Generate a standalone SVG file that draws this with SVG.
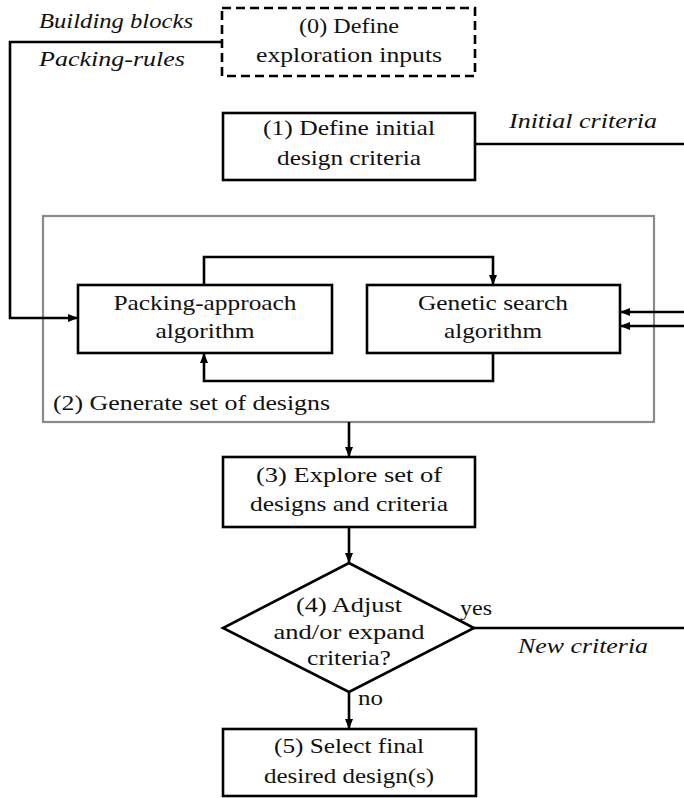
<svg xmlns="http://www.w3.org/2000/svg" width="684" height="798" viewBox="0 0 684 798">
<defs>
<style>
.box{fill:#fff;stroke:#000;stroke-width:2.6}
.dash{fill:#fff;stroke:#000;stroke-width:2.6;stroke-dasharray:9 5}
.grp{fill:none;stroke:#8a8a8a;stroke-width:2.2}
.ln{fill:none;stroke:#000;stroke-width:2.6}
text{font-family:'Liberation Serif','Times New Roman',serif;font-size:22px;fill:#111}
.t{text-anchor:middle}
.i{font-style:italic}
</style>
<marker id="ah" viewBox="0 0 10 8" refX="10" refY="4" markerWidth="10" markerHeight="8" markerUnits="userSpaceOnUse" orient="auto">
<path d="M0,0 L10,4 L0,8 Z" fill="#000"/>
</marker>
</defs>
<rect width="684" height="798" fill="#fff"/>

<g id="n2" font-family="Liberation Serif, serif">
<rect class="grp" x="43" y="216" width="611" height="206"/>
<text x="53" y="410" textLength="277" lengthAdjust="spacingAndGlyphs">(2) Generate set of designs</text>
</g>

<g id="connectors" font-family="Liberation Serif, serif">
<path class="ln" d="M222,42 H10 V318 H78" marker-end="url(#ah)"/>
<path class="ln" d="M475,144 H684"/>
<path class="ln" d="M204,285 V257 H493 V285" marker-end="url(#ah)"/>
<path class="ln" d="M493,353 V381 H204 V353" marker-end="url(#ah)"/>
<path class="ln" d="M684,312 H620" marker-end="url(#ah)"/>
<path class="ln" d="M684,326 H620" marker-end="url(#ah)"/>
<path class="ln" d="M349,422 V457" marker-end="url(#ah)"/>
<path class="ln" d="M349,527 V563" marker-end="url(#ah)"/>
<path class="ln" d="M474,628 H684"/>
<path class="ln" d="M349,692 V729" marker-end="url(#ah)"/>
<text class="i" x="39" y="28" textLength="154" lengthAdjust="spacingAndGlyphs">Building blocks</text>
<text class="i" x="39" y="66" textLength="146" lengthAdjust="spacingAndGlyphs">Packing-rules</text>
<text class="i" x="509" y="128" textLength="148" lengthAdjust="spacingAndGlyphs">Initial criteria</text>
<text x="460" y="615" textLength="32" lengthAdjust="spacingAndGlyphs">yes</text>
<text class="i" x="518" y="653" textLength="130" lengthAdjust="spacingAndGlyphs">New criteria</text>
<text x="358" y="705" textLength="25" lengthAdjust="spacingAndGlyphs">no</text>
</g>

<g id="n0">
<rect class="dash" x="222" y="8" width="253" height="68"/>
<text class="t" x="349" y="33" textLength="100" lengthAdjust="spacingAndGlyphs">(0) Define</text>
<text class="t" x="349" y="62" textLength="186" lengthAdjust="spacingAndGlyphs">exploration inputs</text>
</g>

<g id="n1">
<rect class="box" x="223" y="113" width="252" height="67"/>
<text class="t" x="349" y="135" textLength="172" lengthAdjust="spacingAndGlyphs">(1) Define initial</text>
<text class="t" x="349" y="165" textLength="144" lengthAdjust="spacingAndGlyphs">design criteria</text>
</g>

<g id="n2a">
<rect class="box" x="78" y="285" width="254" height="68"/>
<text class="t" x="205" y="310" textLength="183" lengthAdjust="spacingAndGlyphs">Packing-approach</text>
<text class="t" x="205" y="338" textLength="99" lengthAdjust="spacingAndGlyphs">algorithm</text>
</g>

<g id="n2b">
<rect class="box" x="367" y="285" width="253" height="68"/>
<text class="t" x="493" y="310" textLength="150" lengthAdjust="spacingAndGlyphs">Genetic search</text>
<text class="t" x="493" y="338" textLength="98" lengthAdjust="spacingAndGlyphs">algorithm</text>
</g>

<g id="n3">
<rect class="box" x="223" y="457" width="252" height="70"/>
<text class="t" x="349" y="482" textLength="186" lengthAdjust="spacingAndGlyphs">(3) Explore set of</text>
<text class="t" x="349" y="511" textLength="198" lengthAdjust="spacingAndGlyphs">designs and criteria</text>
</g>

<g id="n4">
<polygon class="box" points="349,563 474,628 349,692 223,628"/>
<text class="t" x="349" y="612" textLength="106" lengthAdjust="spacingAndGlyphs">(4) Adjust</text>
<text class="t" x="349" y="639" textLength="151" lengthAdjust="spacingAndGlyphs">and/or expand</text>
<text class="t" x="349" y="665" textLength="84" lengthAdjust="spacingAndGlyphs">criteria?</text>
</g>

<g id="n5">
<rect class="box" x="223" y="729" width="253" height="67"/>
<text class="t" x="349" y="753" textLength="150" lengthAdjust="spacingAndGlyphs">(5) Select final</text>
<text class="t" x="349" y="783" textLength="170" lengthAdjust="spacingAndGlyphs">desired design(s)</text>
</g>
</svg>
